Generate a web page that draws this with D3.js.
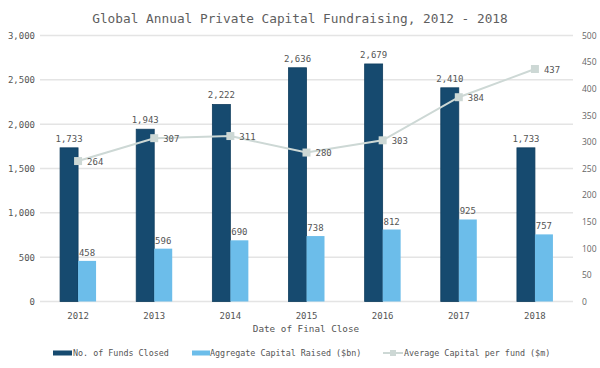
<!DOCTYPE html>
<html><head><meta charset="utf-8">
<script src="https://cdn.jsdelivr.net/npm/d3@7"></script>
<style>body{margin:0;background:#fff}svg{display:block}</style>
</head><body>
<script>
const years = ["2012","2013","2014","2015","2016","2017","2018"];
const fundsClosed = [1733,1943,2222,2636,2679,2410,1733];
const capitalRaised = [458,596,690,738,812,925,757];
const avgCapital = [264,307,311,280,303,384,437];
const leftTicks = [0,500,1000,1500,2000,2500,3000];
const rightTicks = [0,50,100,150,200,250,300,350,400,450,500];
const seriesNames = ["No. of Funds Closed","Aggregate Capital Raised ($bn)","Average Capital per fund ($m)"];

const W=600,H=368;
const mono="'DejaVu Sans Mono', monospace";
const sans="'Open Sans', sans-serif";
const cDark="#164a6f", cLight="#6cbdea", cLine="#cdd8d5", cText="#555";
const svg=d3.select("body").append("svg").attr("width",W).attr("height",H);

const x=d3.scaleBand().domain(years).range([40,573]);
const y=d3.scaleLinear().domain([0,3000]).range([301.5,35.5]);
const y2=d3.scaleLinear().domain([0,500]).range([301.5,35.5]);
const bw=18;

const title=svg.append("text").attr("x",300).attr("y",23).attr("text-anchor","middle")
  .attr("font-family",mono).attr("font-size",15).attr("fill","#5e5e5e")
  .text("Global Annual Private Capital Fundraising, 2012 - 2018");
const tl=title.node().getComputedTextLength();
if(tl>0) title.attr("font-size",15*416/tl);

// grid
svg.append("g").selectAll("line").data(leftTicks).join("line")
  .attr("x1",40).attr("x2",573).attr("y1",d=>y(d)).attr("y2",d=>y(d))
  .attr("stroke","#e4e4e4").attr("stroke-width",1.5);

// left axis
const gl=svg.append("g").attr("transform","translate(35,0)")
  .call(d3.axisLeft(y).tickValues(leftTicks).tickSize(0).tickPadding(0).tickFormat(d3.format(",")));
gl.select(".domain").remove();
gl.selectAll("text").attr("font-family",mono).attr("font-size",9).attr("fill",cText);

// right axis
const gr=svg.append("g").attr("transform","translate(582,0)")
  .call(d3.axisRight(y2).tickValues(rightTicks).tickSize(0).tickPadding(0));
gr.select(".domain").remove();
gr.selectAll("text").attr("font-family",sans).attr("font-size",8.5).attr("fill","#666");

// x axis
const gx=svg.append("g").attr("transform","translate(0,301.5)")
  .call(d3.axisBottom(x).tickSize(0).tickPadding(11));
gx.select(".domain").remove();
gx.selectAll("text").attr("font-family",mono).attr("font-size",9).attr("fill",cText);

svg.append("text").attr("x",306).attr("y",331.5).attr("text-anchor","middle")
  .attr("font-family",mono).attr("font-size",9.3).attr("fill",cText).text("Date of Final Close");

const cx=d=>x(d)+x.bandwidth()/2;

// bars
svg.append("g").selectAll("rect").data(years).join("rect")
  .attr("x",d=>cx(d)-bw).attr("width",bw)
  .attr("y",(d,i)=>y(fundsClosed[i])).attr("height",(d,i)=>y(0)-y(fundsClosed[i]))
  .attr("fill",cDark).attr("stroke","#0f3d5e").attr("stroke-width",0.8);
svg.append("g").selectAll("rect").data(years).join("rect")
  .attr("x",d=>cx(d)).attr("width",bw)
  .attr("y",(d,i)=>y(capitalRaised[i])).attr("height",(d,i)=>y(0)-y(capitalRaised[i]))
  .attr("fill",cLight);

svg.append("g").selectAll("text").data(years).join("text")
  .attr("x",d=>cx(d)-bw/2).attr("y",(d,i)=>y(fundsClosed[i])-6)
  .attr("text-anchor","middle").attr("font-family",mono).attr("font-size",9).attr("fill",cText)
  .text((d,i)=>d3.format(",")(fundsClosed[i]));
svg.append("g").selectAll("text").data(years).join("text")
  .attr("x",d=>cx(d)+bw/2).attr("y",(d,i)=>y(capitalRaised[i])-5)
  .attr("text-anchor","middle").attr("font-family",mono).attr("font-size",9).attr("fill",cText)
  .text((d,i)=>capitalRaised[i]);

// line
const line=d3.line().x(d=>cx(d)).y((d,i)=>y2(avgCapital[i]));
svg.append("path").datum(years).attr("d",line).attr("fill","none")
  .attr("stroke",cLine).attr("stroke-width",2);
svg.append("g").selectAll("rect").data(years).join("rect")
  .attr("x",d=>cx(d)-4).attr("y",(d,i)=>y2(avgCapital[i])-4).attr("width",8).attr("height",8)
  .attr("fill",cLine);
svg.append("g").selectAll("text").data(years).join("text")
  .attr("x",d=>cx(d)+9).attr("y",(d,i)=>y2(avgCapital[i])+3.5)
  .attr("font-family",mono).attr("font-size",9).attr("fill",cText)
  .text((d,i)=>avgCapital[i]);

// legend
const lg=svg.append("g");
const ly=353;
lg.append("rect").attr("x",53).attr("y",ly-2.5).attr("width",19).attr("height",5).attr("fill",cDark);
lg.append("text").attr("x",73).attr("y",ly+3).attr("font-family",mono).attr("font-size",8.4).attr("fill",cText).text(seriesNames[0]);
lg.append("rect").attr("x",192).attr("y",ly-2.5).attr("width",18).attr("height",5).attr("fill",cLight);
lg.append("text").attr("x",210).attr("y",ly+3).attr("font-family",mono).attr("font-size",8.4).attr("fill",cText).text(seriesNames[1]);
lg.append("line").attr("x1",383).attr("x2",403).attr("y1",ly).attr("y2",ly).attr("stroke",cLine).attr("stroke-width",2);
lg.append("rect").attr("x",390).attr("y",ly-3).attr("width",6).attr("height",6).attr("fill",cLine);
lg.append("text").attr("x",404).attr("y",ly+3).attr("font-family",mono).attr("font-size",8.4).attr("fill",cText).text(seriesNames[2]);
</script>
</body></html>
